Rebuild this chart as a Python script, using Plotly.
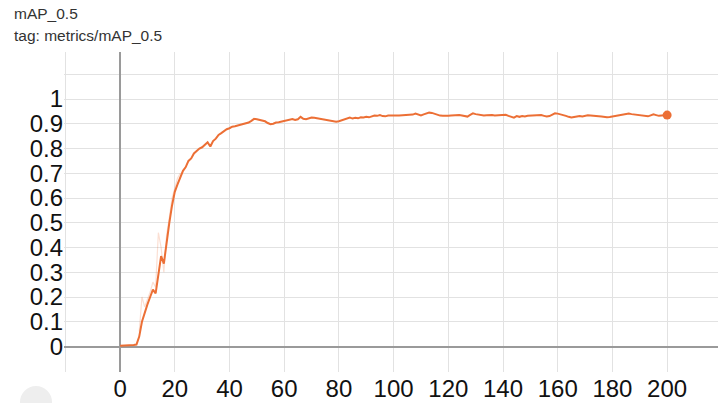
import plotly.graph_objects as go

title_main = "mAP_0.5"
title_tag = "tag: metrics/mAP_0.5"

epochs = list(range(0, 201))
map05 = [
    0.003, 0.003, 0.004, 0.004, 0.005, 0.006, 0.008, 0.04, 0.10, 0.14,
    0.17, 0.20, 0.23, 0.215, 0.29, 0.365, 0.335, 0.43, 0.50, 0.57,
    0.625, 0.655, 0.68, 0.71, 0.725, 0.75, 0.76, 0.78, 0.79, 0.80,
    0.805, 0.815, 0.825, 0.808, 0.83, 0.84, 0.855, 0.862, 0.872, 0.878,
    0.882, 0.888, 0.89, 0.893, 0.895, 0.896, 0.90, 0.905, 0.912, 0.92,
    0.918, 0.915, 0.914, 0.91, 0.903, 0.898, 0.90, 0.905, 0.906, 0.908,
    0.91, 0.913, 0.917, 0.919, 0.915, 0.918, 0.928, 0.92, 0.918, 0.922,
    0.925, 0.924, 0.922, 0.92, 0.918, 0.915, 0.913, 0.911, 0.909, 0.908,
    0.91, 0.914, 0.918, 0.922, 0.925, 0.921, 0.924, 0.922, 0.926, 0.925,
    0.928, 0.926, 0.93, 0.933, 0.932, 0.935, 0.931, 0.93, 0.933, 0.934,
    0.934, 0.933, 0.933, 0.934, 0.933, 0.934, 0.934, 0.937, 0.941, 0.936,
    0.934, 0.938, 0.943, 0.945, 0.944, 0.94, 0.936, 0.933, 0.932, 0.931,
    0.932, 0.933, 0.934, 0.933, 0.935, 0.933, 0.931, 0.929, 0.936, 0.942,
    0.939, 0.936, 0.934, 0.933, 0.934, 0.936, 0.935, 0.933, 0.934, 0.933,
    0.935, 0.936, 0.932, 0.928, 0.925, 0.931, 0.928, 0.931, 0.929, 0.932,
    0.933, 0.934, 0.935, 0.936, 0.935, 0.932, 0.929, 0.931, 0.937, 0.942,
    0.941, 0.939, 0.936, 0.932, 0.928, 0.925, 0.927, 0.93, 0.931, 0.929,
    0.932, 0.934, 0.933, 0.931, 0.932, 0.93, 0.929, 0.927, 0.926, 0.927,
    0.929, 0.931, 0.933, 0.936, 0.938, 0.94, 0.941, 0.939, 0.937, 0.936,
    0.935, 0.933, 0.931, 0.93, 0.934, 0.938, 0.935, 0.932, 0.933, 0.934,
    0.935,
]

raw_epochs = [7, 8, 9, 10, 11, 12, 13, 14, 15, 16, 17, 18, 19, 20, 21, 22]
raw_values = [0.06, 0.20, 0.16, 0.19, 0.22, 0.26, 0.24, 0.46, 0.40, 0.30, 0.45, 0.52, 0.60, 0.64, 0.68, 0.70]

x_ticks = [-20, 0, 20, 40, 60, 80, 100, 120, 140, 160, 180, 200]
x_labels = ["", "0", "20", "40", "60", "80", "100", "120", "140", "160", "180", "200"]
y_ticks = [-0.1, 0, 0.1, 0.2, 0.3, 0.4, 0.5, 0.6, 0.7, 0.8, 0.9, 1.0, 1.1]
y_labels = ["", "0", "0.1", "0.2", "0.3", "0.4", "0.5", "0.6", "0.7", "0.8", "0.9", "1", ""]

line_color = "#ec6f35"

fig = go.Figure()
fig.add_trace(go.Scatter(
    x=raw_epochs, y=raw_values, mode="lines",
    line=dict(color="rgba(236,111,53,0.22)", width=1.2),
    hoverinfo="skip", showlegend=False,
))
fig.add_trace(go.Scatter(
    x=epochs, y=map05, mode="lines",
    line=dict(color=line_color, width=2),
    showlegend=False,
))
fig.add_trace(go.Scatter(
    x=[epochs[-1]], y=[map05[-1]], mode="markers",
    marker=dict(color=line_color, size=9),
    showlegend=False,
))

PW = 718 - 64
PH = 372 - 52

fig.update_layout(
    width=718, height=403, autosize=False,
    margin=dict(l=64, r=0, t=52, b=31),
    paper_bgcolor="white", plot_bgcolor="white",
    font=dict(family="Liberation Sans, Arial, sans-serif", color="#222"),
    xaxis=dict(
        range=[-20.5, 218.6], tickvals=x_ticks, ticktext=x_labels,
        showgrid=True, gridcolor="#e2e2e2", gridwidth=1,
        zeroline=True, zerolinecolor="#9a9a9a", zerolinewidth=1.5,
        showline=False, ticks="", tickfont=dict(size=24, color="#111"),
    ),
    yaxis=dict(
        range=[-0.103, 1.19], tickvals=y_ticks, ticktext=y_labels,
        showgrid=True, gridcolor="#e2e2e2", gridwidth=1,
        zeroline=True, zerolinecolor="#9a9a9a", zerolinewidth=1.5,
        showline=False, ticks="", tickfont=dict(size=24, color="#111"),
    ),
)

fig.add_annotation(text=title_main, xref="paper", yref="paper",
                   x=-52 / PW, y=1 + (52 - 3) / PH, xanchor="left", yanchor="top",
                   showarrow=False, font=dict(size=15.5, color="#333"))
fig.add_annotation(text=title_tag, xref="paper", yref="paper",
                   x=-52 / PW, y=1 + (52 - 25) / PH, xanchor="left", yanchor="top",
                   showarrow=False, font=dict(size=15.5, color="#333"))

fig.add_shape(type="circle", xref="paper", yref="paper",
              x0=(20 - 64) / PW, x1=(52 - 64) / PW,
              y0=-(386 - 372) / PH, y1=-(418 - 372) / PH,
              fillcolor="#eeeeee", line=dict(width=0), layer="below")

fig.write_html("out.html", config={"displayModeBar": False},
               post_script="document.body.style.margin='0';document.body.style.padding='0';")
